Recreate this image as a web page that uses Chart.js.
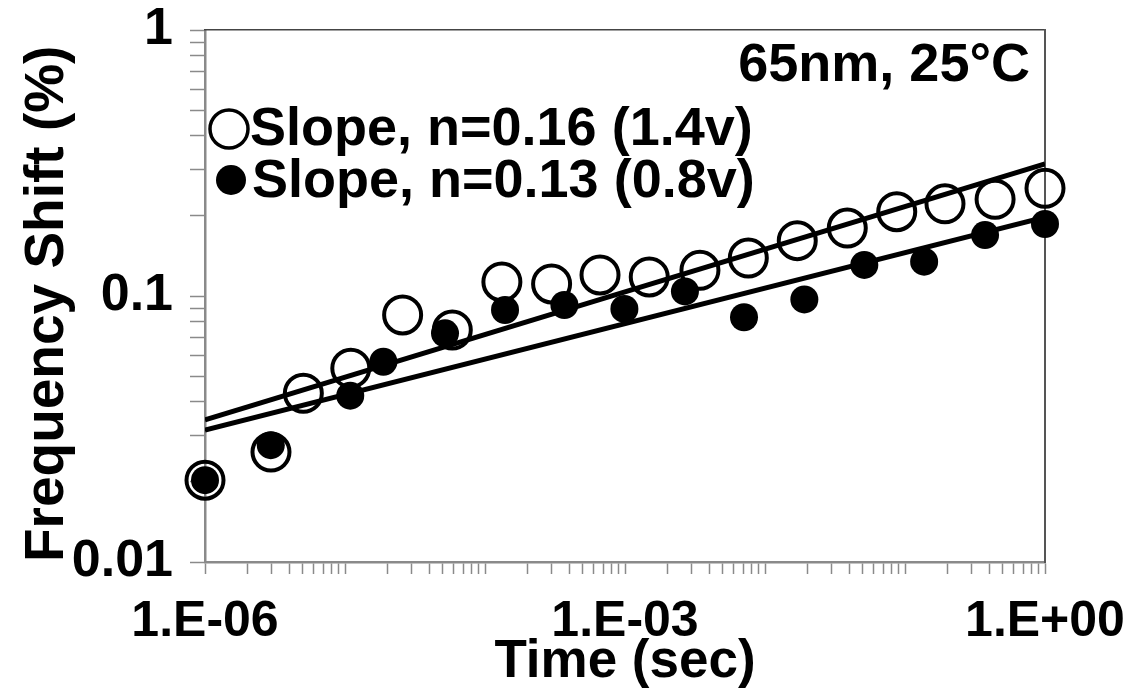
<!DOCTYPE html>
<html>
<head>
<meta charset="utf-8">
<script src="https://cdn.jsdelivr.net/npm/chart.js@4/dist/chart.umd.min.js"></script>
<style>
  html, body { margin: 0; padding: 0; background: #fff; }
  #wrap { width: 1143px; height: 696px; position: relative; }
</style>
</head>
<body>
<div id="wrap"><canvas id="chart"></canvas></div>
<script>
// Open circles, 1.4v
const timeHigh = [1e-6, 2.96e-6, 5.04e-6, 1.1e-5, 2.58e-5, 5.84e-5, 1.32e-4, 2.99e-4, 6.63e-4,
  1.49e-3, 3.43e-3, 7.6e-3, 1.7e-2, 3.87e-2, 8.73e-2, 0.193, 0.44, 1]
const shiftHigh = [0.0203, 0.0259, 0.0431, 0.0535, 0.0849, 0.0745, 0.113, 0.111, 0.120,
  0.118, 0.125, 0.139, 0.1615, 0.180, 0.2075, 0.222, 0.231, 0.254]

// Filled circles, 0.8v
const timeLow = [1e-6, 2.95e-6, 1.09e-5, 1.88e-5, 5.18e-5, 1.39e-4, 3.69e-4, 9.9e-4,
  2.68e-3, 7.08e-3, 1.91e-2, 5.12e-2, 0.137, 0.373, 1]
const shiftLow = [0.0203, 0.0275, 0.0422, 0.0566, 0.0724, 0.0886, 0.0925, 0.0894,
  0.104, 0.0832, 0.0971, 0.1309, 0.1346, 0.1695, 0.1865]

// Power-law fit lines (end points)
const fitTime = [1e-6, 1]
const fitHigh = [0.0342, 0.314]
const fitLow = [0.0313, 0.198]

const xTickValues = [1e-6, 1e-3, 1]
const xTickLabels = ["1.E-06", "1.E-03", "1.E+00"]
const yTickValues = [0.01, 0.1, 1]
const yTickLabels = ["0.01", "0.1", "1"]

const legendLabels = ["Slope, n=0.16 (1.4v)", "Slope, n=0.13 (0.8v)"]
const noteText = "65nm, 25°C"

const FONT = "'Liberation Sans', Arial, sans-serif"
const AXIS_GRAY = "#8a8a8a"

function pairs(xs, ys) {
  return xs.map((x, i) => ({ x: x, y: ys[i] }))
}

function labelFor(values, labels, v) {
  const i = values.findIndex(t => Math.abs(Math.log10(t) - Math.log10(v)) < 1e-6)
  return i >= 0 ? labels[i] : ""
}

// keep only 1..9 x 10^k ticks (drop the 1.5 ones)
function wholeTicks(scale) {
  scale.ticks = scale.ticks.filter(t => {
    const m = t.value / Math.pow(10, Math.floor(Math.log10(t.value) + 1e-9))
    return Math.abs(m - Math.round(m)) < 1e-6
  })
}

// fixed box sizes so the plot area lands where the original has it
function fixBox(size) {
  return scale => {
    if (scale.isHorizontal()) scale.height = size
    else scale.width = size
    scale.paddingTop = 0
    scale.paddingBottom = 0
    scale.paddingLeft = 0
    scale.paddingRight = 0
  }
}

const notesPlugin = {
  id: "notes",
  afterDatasetsDraw(chart) {
    const ctx = chart.ctx
    ctx.save()
    ctx.fillStyle = "#000"
    ctx.textBaseline = "middle"
    ctx.font = "bold 54px " + FONT

    ctx.textAlign = "right"
    ctx.fillText(noteText, 1030, 66)

    // legend markers
    ctx.lineWidth = 3.5
    ctx.strokeStyle = "#000"
    ctx.beginPath()
    ctx.arc(229, 129, 19, 0, Math.PI * 2)
    ctx.stroke()
    ctx.beginPath()
    ctx.arc(231, 180, 15, 0, Math.PI * 2)
    ctx.fill()

    ctx.textAlign = "left"
    ctx.fillText(legendLabels[0], 250, 130)
    ctx.fillText(legendLabels[1], 252, 182)
    ctx.restore()
  }
}

const ctx = document.getElementById("chart").getContext("2d")

new Chart(ctx, {
  type: "scatter",
  data: {
    datasets: [
      {
        label: "0.8v",
        data: pairs(timeLow, shiftLow),
        pointRadius: 14,
        pointBorderWidth: 0,
        backgroundColor: "#000",
        borderColor: "#000",
        clip: false,
        order: 0
      },
      {
        label: "1.4v",
        data: pairs(timeHigh, shiftHigh),
        pointRadius: 18.5,
        pointBorderWidth: 4,
        backgroundColor: "rgba(0,0,0,0)",
        borderColor: "#000",
        clip: false,
        order: 1
      },
      {
        label: "fit 1.4v",
        type: "line",
        data: pairs(fitTime, fitHigh),
        borderColor: "#000",
        borderWidth: 5,
        pointRadius: 0,
        order: 2
      },
      {
        label: "fit 0.8v",
        type: "line",
        data: pairs(fitTime, fitLow),
        borderColor: "#000",
        borderWidth: 5,
        pointRadius: 0,
        order: 2
      }
    ]
  },
  options: {
    responsive: true,
    maintainAspectRatio: false,
    animation: false,
    layout: {
      padding: { top: 30, right: 98, left: 0, bottom: 0 }
    },
    plugins: {
      legend: { display: false },
      tooltip: { enabled: false }
    },
    scales: {
      x: {
        type: "logarithmic",
        position: "bottom",
        min: 1e-6,
        max: 1,
        afterBuildTicks: wholeTicks,
        afterFit: fixBox(134),
        border: { color: AXIS_GRAY, width: 2.5 },
        grid: {
          drawOnChartArea: false,
          drawTicks: true,
          tickLength: 12,
          tickColor: AXIS_GRAY,
          tickWidth: 1.5
        },
        ticks: {
          autoSkip: false,
          maxRotation: 0,
          padding: 23,
          color: "#000",
          font: { family: FONT, size: 50, weight: "bold", lineHeight: 1 },
          callback: value => labelFor(xTickValues, xTickLabels, value)
        },
        title: {
          display: true,
          text: "Time (sec)",
          color: "#000",
          padding: { top: 0, bottom: 7 },
          font: { family: FONT, size: 53, weight: "bold", lineHeight: 1 }
        }
      },
      y: {
        type: "logarithmic",
        position: "left",
        min: 0.01,
        max: 1,
        afterBuildTicks: wholeTicks,
        afterFit: fixBox(205),
        border: { color: AXIS_GRAY, width: 2.5 },
        grid: {
          drawOnChartArea: false,
          drawTicks: true,
          tickLength: 15,
          tickColor: AXIS_GRAY,
          tickWidth: 1.5
        },
        ticks: {
          autoSkip: false,
          padding: 17,
          color: "#000",
          font: { family: FONT, size: 52, weight: "bold", lineHeight: 1 },
          callback: value => labelFor(yTickValues, yTickLabels, value)
        },
        title: {
          display: true,
          text: "Frequency Shift (%)",
          align: "start",
          color: "#000",
          padding: { top: 20, bottom: 0 },
          font: { family: FONT, size: 55, weight: "bold", lineHeight: 1 }
        }
      },
      xTop: {
        type: "logarithmic",
        position: "top",
        min: 1e-6,
        max: 1,
        afterFit: fixBox(0),
        border: { color: "#444", width: 1.5 },
        grid: { display: false, drawTicks: false },
        ticks: { display: false }
      },
      yRight: {
        type: "logarithmic",
        position: "right",
        min: 0.01,
        max: 1,
        afterFit: fixBox(0),
        border: { color: "#555", width: 2 },
        grid: { display: false, drawTicks: false },
        ticks: { display: false }
      }
    }
  },
  plugins: [notesPlugin]
})
</script>
</body>
</html>
